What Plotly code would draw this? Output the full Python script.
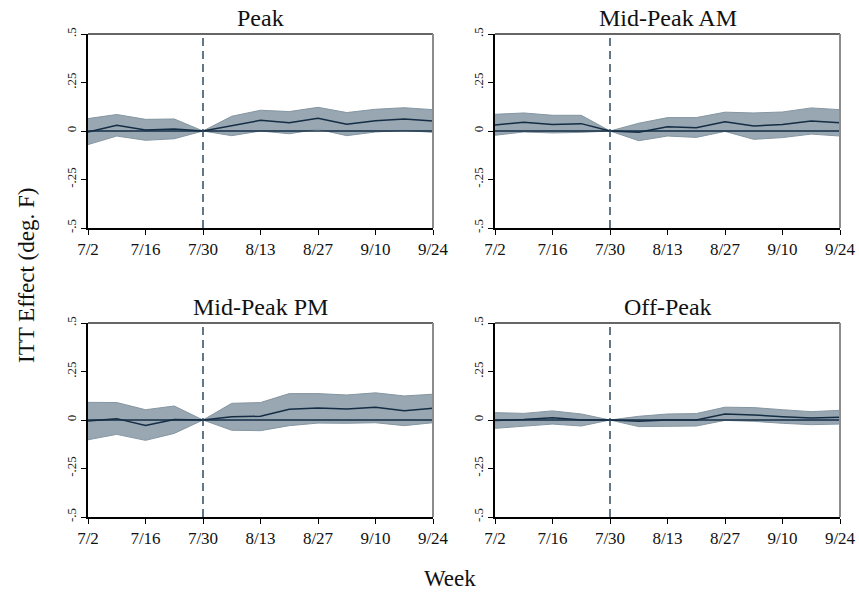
import plotly.graph_objects as go

weeks = ["7/2", "7/9", "7/16", "7/23", "7/30", "8/6", "8/13", "8/20", "8/27", "9/3", "9/10", "9/17", "9/24"]
tick_weeks = ["7/2", "7/16", "7/30", "8/13", "8/27", "9/10", "9/24"]
y_ticks = [-0.5, -0.25, 0, 0.25, 0.5]
y_tick_labels = ["-.5", "-.25", "0", ".25", ".5"]

panel_titles = ["Peak", "Mid-Peak AM", "Mid-Peak PM", "Off-Peak"]

peak_est = [-0.005, 0.030, 0.005, 0.010, 0.0, 0.028, 0.055, 0.042, 0.066, 0.035, 0.053, 0.062, 0.052]
peak_hi = [0.064, 0.085, 0.060, 0.062, 0.0, 0.076, 0.107, 0.100, 0.122, 0.095, 0.112, 0.120, 0.110]
peak_lo = [-0.070, -0.026, -0.048, -0.040, 0.0, -0.024, 0.000, -0.014, 0.009, -0.024, -0.005, 0.003, -0.007]

am_est = [0.031, 0.045, 0.034, 0.038, 0.0, -0.007, 0.022, 0.017, 0.048, 0.026, 0.033, 0.052, 0.043]
am_hi = [0.086, 0.093, 0.081, 0.081, 0.0, 0.040, 0.069, 0.069, 0.097, 0.093, 0.098, 0.119, 0.110]
am_lo = [-0.022, -0.005, -0.010, -0.007, 0.0, -0.050, -0.026, -0.033, -0.002, -0.043, -0.034, -0.016, -0.026]

pm_est = [-0.005, 0.007, -0.028, 0.002, 0.0, 0.017, 0.019, 0.055, 0.062, 0.057, 0.066, 0.048, 0.060]
pm_hi = [0.091, 0.090, 0.053, 0.072, 0.0, 0.086, 0.090, 0.136, 0.136, 0.129, 0.140, 0.124, 0.133]
pm_lo = [-0.102, -0.074, -0.105, -0.069, 0.0, -0.053, -0.055, -0.029, -0.016, -0.017, -0.014, -0.029, -0.014]

off_est = [-0.003, 0.002, 0.012, 0.000, 0.0, -0.007, 0.000, 0.000, 0.031, 0.026, 0.017, 0.010, 0.014]
off_hi = [0.038, 0.034, 0.047, 0.031, 0.0, 0.019, 0.031, 0.033, 0.066, 0.064, 0.053, 0.043, 0.050]
off_lo = [-0.043, -0.031, -0.021, -0.031, 0.0, -0.034, -0.031, -0.031, -0.002, -0.007, -0.017, -0.024, -0.021]

estimates = [peak_est, am_est, pm_est, off_est]
uppers = [peak_hi, am_hi, pm_hi, off_hi]
lowers = [peak_lo, am_lo, pm_lo, off_lo]

W, H = 859, 594
FONT = "Liberation Serif, Times New Roman, serif"
BAND = "#98a7b1"
BAND_EDGE = "#8596a2"
LINE = "#142c44"
VLINE = "#2f4b62"

# panel boxes in pixels: (left, right, top, bottom)
boxes = [(88, 433, 34, 228), (495, 840, 34, 228), (88, 433, 323, 517), (495, 840, 323, 517)]

fig = go.Figure()
x_idx = list(range(len(weeks)))
tick_idx = [weeks.index(t) for t in tick_weeks]
event_idx = weeks.index("7/30")

for i in range(4):
    n = i + 1
    xa = "x" if n == 1 else f"x{n}"
    ya = "y" if n == 1 else f"y{n}"
    fig.add_trace(go.Scatter(x=x_idx, y=uppers[i], mode="lines", line=dict(color=BAND_EDGE, width=1),
                             xaxis=xa, yaxis=ya, showlegend=False, hoverinfo="skip"))
    fig.add_trace(go.Scatter(x=x_idx, y=lowers[i], mode="lines", line=dict(color=BAND_EDGE, width=1),
                             fill="tonexty", fillcolor=BAND,
                             xaxis=xa, yaxis=ya, showlegend=False, hoverinfo="skip"))
    fig.add_trace(go.Scatter(x=[x_idx[0], x_idx[-1]], y=[0, 0], mode="lines", line=dict(color=LINE, width=1.5),
                             xaxis=xa, yaxis=ya, showlegend=False, hoverinfo="skip"))
    fig.add_trace(go.Scatter(x=x_idx, y=estimates[i], mode="lines", line=dict(color=LINE, width=1.5),
                             xaxis=xa, yaxis=ya, showlegend=False))

    l, r, t, b = boxes[i]
    xdom = [l / W, r / W]
    ydom = [1 - b / H, 1 - t / H]
    xkey = "xaxis" if n == 1 else f"xaxis{n}"
    ykey = "yaxis" if n == 1 else f"yaxis{n}"
    fig.update_layout(**{
        xkey: dict(domain=xdom, anchor=ya, range=[0, len(weeks) - 1], tickmode="array",
                   tickvals=tick_idx, ticktext=tick_weeks, ticks="outside", ticklen=5,
                   tickcolor="black", showline=True, linecolor="black", linewidth=1.5,
                   showgrid=False, zeroline=False, automargin=False,
                   tickfont=dict(family=FONT, size=17, color="#111")),
        ykey: dict(domain=ydom, anchor=xa, range=[-0.5, 0.5], tickmode="array",
                   tickvals=y_ticks, ticktext=y_tick_labels, tickangle=-90, ticks="outside", ticklen=5,
                   tickcolor="black", showline=True, linecolor="black", linewidth=1.5,
                   showgrid=False, zeroline=False, automargin=False,
                   tickfont=dict(family=FONT, size=13, color="#222")),
    })
    xd = f"{xa} domain"
    yd = f"{ya} domain"
    # event line
    fig.add_shape(type="line", xref=xa, yref=yd, x0=event_idx, x1=event_idx, y0=0, y1=1,
                  line=dict(color=VLINE, width=1.5, dash="8px,5px"))
    # top and right frame
    fig.add_shape(type="line", xref=xd, yref=yd, x0=0, x1=1, y0=1, y1=1,
                  line=dict(color="#333333", width=1.5))
    fig.add_shape(type="line", xref=xd, yref=yd, x0=1, x1=1, y0=0, y1=1,
                  line=dict(color="#8c8c8c", width=2))
    # title
    fig.add_annotation(text=panel_titles[i], xref="paper", yref="paper",
                       x=(l + r) / 2 / W, y=1 - (t - 16) / H, showarrow=False,
                       font=dict(family=FONT, size=24, color="#111"), xanchor="center", yanchor="middle")

fig.add_annotation(text="ITT Effect (deg. F)", xref="paper", yref="paper", x=26 / W, y=1 - 276 / H,
                   textangle=-90, showarrow=False, xanchor="center", yanchor="middle",
                   font=dict(family=FONT, size=23, color="#111"))
fig.add_annotation(text="Week", xref="paper", yref="paper", x=450 / W, y=1 - 578 / H,
                   showarrow=False, xanchor="center", yanchor="middle",
                   font=dict(family=FONT, size=23, color="#111"))

fig.update_layout(width=W, height=H, margin=dict(l=0, r=0, t=0, b=0),
                  plot_bgcolor="white", paper_bgcolor="white")

fig.write_html("out.html", config={"displayModeBar": False},
               post_script="document.body.style.margin='0';document.body.style.overflow='hidden';")
